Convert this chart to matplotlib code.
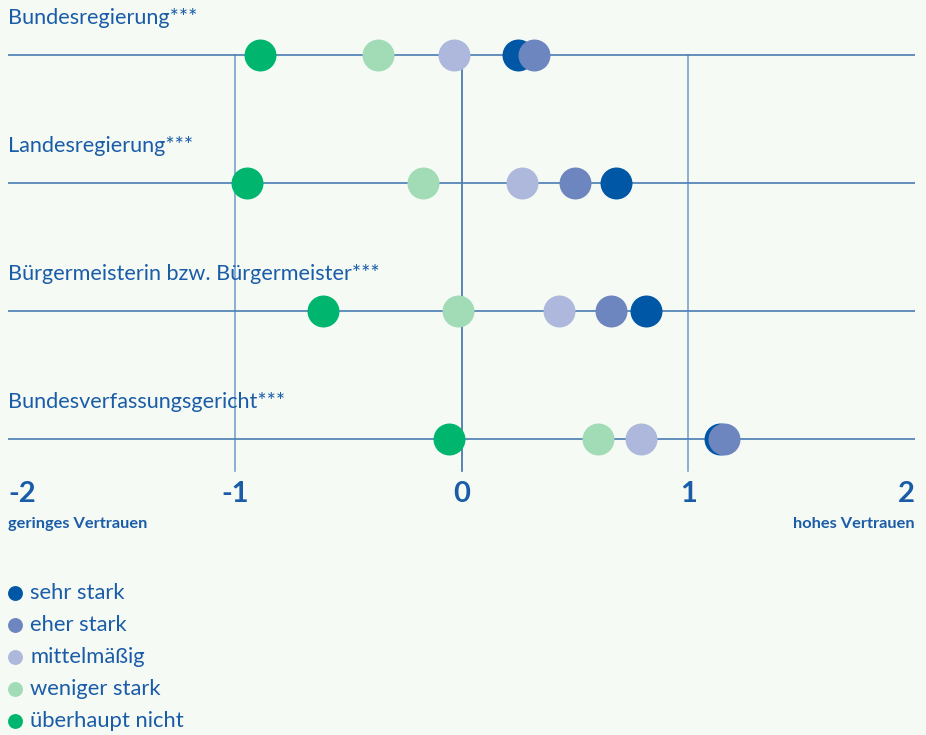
import numpy as np
import matplotlib.pyplot as plt

# Daten (Mittelwerte)
institutionen = ['Bundesregierung***', 'Landesregierung***',
                 'Bürgermeisterin bzw. Bürgermeister***', 'Bundesverfassungsgericht***']
gruppen = ['sehr stark', 'eher stark', 'mittelmäßig', 'weniger stark', 'überhaupt nicht']
farben = ['#0057a6', '#6d86c0', '#adb8dc', '#a1dcb7', '#00b66e']

sehr_stark = [0.25, 0.68, 0.815, 1.14]
eher_stark = [0.32, 0.50, 0.66, 1.157]
mittel = [-0.035, 0.265, 0.43, 0.79]
weniger = [-0.37, -0.17, -0.015, 0.60]
ueberhaupt = [-0.89, -0.945, -0.61, -0.053]
werte = [sehr_stark, eher_stark, mittel, weniger, ueberhaupt]

ticks = [-2, -1, 0, 1, 2]

bg = '#f5faf4'
blau = '#1a5ca8'
linie = '#4a7db5'

plt.rcParams['font.family'] = ['Lato', 'DejaVu Sans']

fig = plt.figure(figsize=(9.26, 7.35), dpi=100, facecolor=bg)
ax = fig.add_axes([8/926, 0, 907/926, 1])
ax.set_facecolor(bg)
ax.set_xlim(-2, 2)
px = 128.0  # pixel pro Zeile
ax.set_ylim((735-55)/px, -55/px)
ax.axis('off')

n = len(institutionen)
y = np.arange(n)

# Gitter
for t in [-1, 0, 1]:
    c = '#3f6fa6' if t == 0 else '#78a3cc'
    ax.plot([t, t], [0, (471-55)/px], color=c, lw=1.2, zorder=1)
for i in y:
    ax.plot([-2, 2], [i, i], color=linie, lw=1.2, zorder=1)
    ax.text(-2, i - 31/px, institutionen[i], color=blau, fontsize=15.6,
            ha='left', va='baseline')

# Punkte
for g, w, c in zip(gruppen, werte, farben):
    ax.scatter(w, y, s=530, color=c, linewidths=0, zorder=3)

# Achsenbeschriftung
for t in ticks:
    ha = 'left' if t == -2 else ('right' if t == 2 else 'center')
    ax.text(t, (494-55)/px, str(t), color=blau, fontsize=21, fontweight='bold',
            ha=ha, va='center')
ax.text(-2, (524-55)/px, 'geringes Vertrauen', color=blau, fontsize=11.8,
        fontweight='bold', ha='left', va='center')
ax.text(2, (524-55)/px, 'hohes Vertrauen', color=blau, fontsize=11.8,
        fontweight='bold', ha='right', va='center')

# Legende
for k, (g, c) in enumerate(zip(gruppen, farben)):
    yy = (593 - 55 + 32*k)/px
    ax.scatter([-2 + 7/226.75], [yy], s=115, color=c, linewidths=0, clip_on=False)
    ax.text(-2 + 22/226.75, yy, g, color=blau, fontsize=15.8, ha='left', va='center')

fig.savefig('out.png', dpi=100, facecolor=bg)
